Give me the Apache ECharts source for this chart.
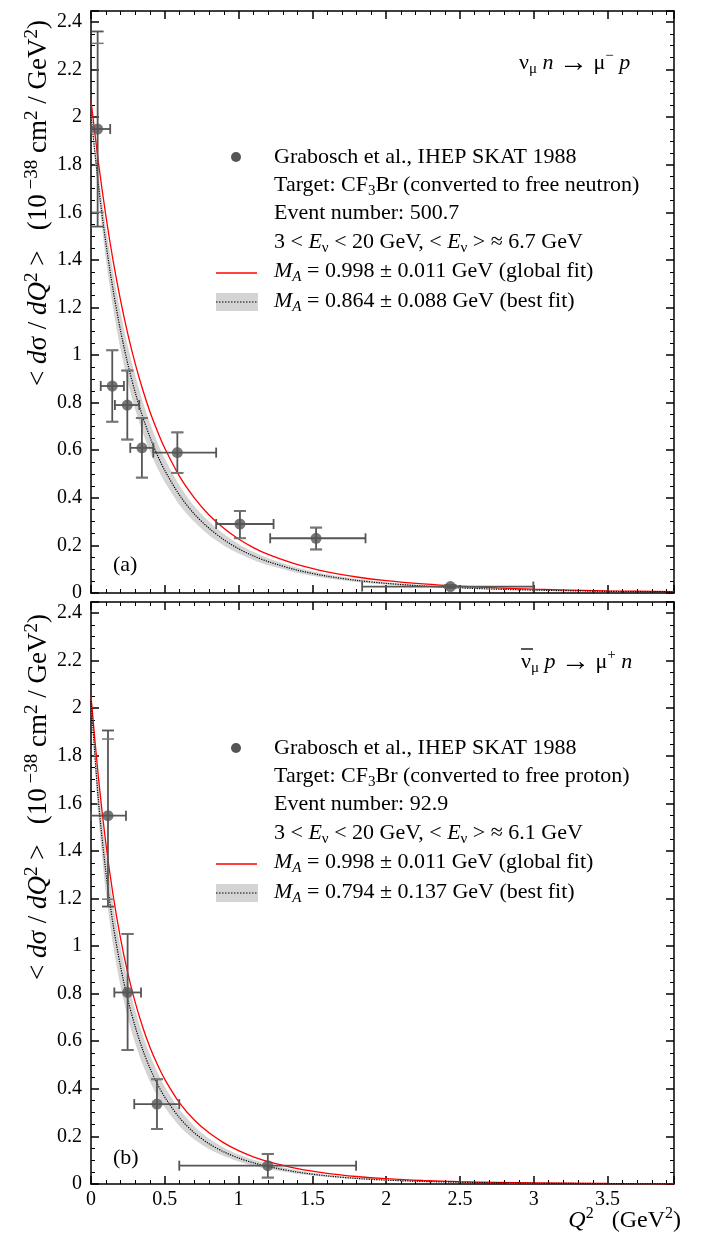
<!DOCTYPE html>
<html>
<head>
<meta charset="utf-8">
<script src="https://cdn.jsdelivr.net/npm/echarts@6/dist/echarts.min.js"></script>
<style>
html,body{margin:0;padding:0;background:#fff;}
#chart{width:702px;height:1235px;}
</style>
</head>
<body>
<div id="chart"></div>
<script>
// ---------- data ----------
// common Q^2 grid for the curves (GeV^2)
const qGrid = [0,0.05,0.1,0.15,0.2,0.25,0.3,0.35,0.4,0.45,0.5,0.6,0.7,0.8,0.9,1.0,1.1,1.2,1.4,1.6,1.8,2.0,2.25,2.5,2.75,3.0,3.5,3.95];

// panel (a): nu_mu n -> mu- p
const redA    = [2.07,1.811,1.588,1.396,1.231,1.087,0.963,0.855,0.761,0.680,0.608,0.490,0.400,0.328,0.272,0.227,0.191,0.162,0.119,0.0887,0.0673,0.0519,0.0382,0.0283,0.0212,0.0160,0.0093,0.0058];
const bestA   = [2.01,1.717,1.474,1.272,1.103,0.961,0.842,0.741,0.654,0.579,0.515,0.411,0.332,0.272,0.224,0.186,0.156,0.132,0.0955,0.0705,0.0530,0.0405,0.0294,0.0216,0.0161,0.0121,0.0069,0.0042];
const bandLoA = [2.000,1.674,1.408,1.196,1.026,0.886,0.770,0.676,0.595,0.525,0.466,0.370,0.299,0.243,0.200,0.166,0.139,0.1175,0.0845,0.0624,0.0466,0.0356,0.0259,0.0190,0.0142,0.0106,0.0061,0.0037];
const bandHiA = [2.020,1.760,1.540,1.348,1.180,1.036,0.914,0.806,0.713,0.633,0.564,0.452,0.365,0.301,0.248,0.206,0.173,0.1465,0.1065,0.0786,0.0594,0.0454,0.0329,0.0242,0.0180,0.0136,0.0077,0.0047];

const q2A    = [0.045,0.144,0.246,0.345,0.585,1.009,1.525,2.435];
const q2LoA  = [0.0,0.066,0.162,0.266,0.422,0.848,1.214,1.837];
const q2HiA  = [0.13,0.223,0.327,0.422,0.848,1.237,1.86,2.997];
const xsA    = [1.95,0.87,0.79,0.61,0.59,0.29,0.23,0.027];
const xsLoA  = [1.54,0.72,0.645,0.485,0.505,0.23,0.183,0.021];
const xsHiA  = [2.36,1.02,0.935,0.735,0.675,0.345,0.275,0.033];
const xsLo2A = [1.60,0.72,0.645,0.485,0.505,0.23,0.183,0.021];
const xsHi2A = [2.31,1.02,0.935,0.735,0.675,0.345,0.275,0.033];

// panel (b): anti-nu_mu p -> mu+ n
const redB    = [2.05,1.710,1.435,1.213,1.032,0.884,0.762,0.660,0.574,0.502,0.440,0.341,0.269,0.215,0.173,0.140,0.114,0.0942,0.0648,0.0450,0.0315,0.0223,0.0147,0.0098,0.0066,0.0045,0.0021,0.0011];
const bestB   = [2.03,1.613,1.314,1.089,0.914,0.774,0.660,0.565,0.486,0.420,0.365,0.278,0.215,0.169,0.135,0.109,0.0893,0.0733,0.0497,0.0340,0.0234,0.0162,0.0107,0.0072,0.0048,0.0033,0.0015,0.0008];
const bandLoB = [2.020,1.548,1.229,1.002,0.832,0.697,0.591,0.503,0.430,0.370,0.321,0.243,0.187,0.147,0.1174,0.0943,0.0772,0.0630,0.0427,0.0292,0.0200,0.0138,0.0091,0.0061,0.0041,0.0028,0.0013,0.0007];
const bandHiB = [2.040,1.678,1.399,1.176,0.996,0.851,0.729,0.627,0.542,0.470,0.409,0.313,0.243,0.191,0.1526,0.1237,0.1014,0.0836,0.0567,0.0388,0.0268,0.0186,0.0123,0.0083,0.0055,0.0038,0.0017,0.0009];

const q2B    = [0.115,0.248,0.447,1.198];
const q2LoB  = [0.0,0.158,0.293,0.598];
const q2HiB  = [0.237,0.339,0.598,1.796];
const xsB    = [1.548,0.805,0.336,0.077];
const xsLoB  = [1.166,0.563,0.231,0.027];
const xsHiB  = [1.906,1.051,0.44,0.126];
const xsLo2B = [1.197,0.563,0.231,0.027];
const xsHi2B = [1.87,1.051,0.44,0.126];

// axes
const xMin = 0, xMax = 3.95, xStep = 0.5;
const yMin = 0, yMax = 2.446, yStep = 0.2;

// ---------- chart ----------
const FONT = '"Liberation Serif","Times New Roman",serif';
const chart = echarts.init(document.getElementById('chart'), null, {renderer:'canvas'});

function zipLine(xs, ys){ return xs.map((x,i)=>[x, ys[i]]); }
function errData(q, ql, qh, y, yl, yh, yl2, yh2){
  return q.map((x,i)=>[x, y[i], ql[i], qh[i], yl[i], yh[i], yl2[i], yh2[i]]);
}

function xAxisOf(gi, pos, labels){
  return {
    type:'value', gridIndex:gi, position:pos, min:xMin, max:xMax, interval:xStep,
    axisLine:{show:true, onZero:false, lineStyle:{color:'#000', width:1.5}},
    axisTick:{show:true, inside:true, length:8, lineStyle:{color:'#000', width:1.5}},
    minorTick:{show:true, splitNumber:5, length:4, lineStyle:{color:'#000', width:1}},
    splitLine:{show:false}, minorSplitLine:{show:false},
    axisLabel:{show:labels, showMaxLabel:false, margin:6, fontFamily:FONT, fontSize:20, color:'#000'}
  };
}
function yAxisOf(gi, pos, labels){
  return {
    type:'value', gridIndex:gi, position:pos, min:yMin, max:yMax, interval:yStep,
    axisLine:{show:true, onZero:false, lineStyle:{color:'#000', width:1.5}},
    axisTick:{show:true, inside:true, length:8, lineStyle:{color:'#000', width:1.5}},
    minorTick:{show:true, splitNumber:4, length:4, lineStyle:{color:'#000', width:1}},
    splitLine:{show:false}, minorSplitLine:{show:false},
    axisLabel:{show:labels, showMaxLabel:false, margin:9, fontFamily:FONT, fontSize:20, color:'#000',
      formatter: v => String(Math.round(v*10)/10)}
  };
}

function bandSeries(xi, yi, lo, hi){
  return {
    type:'custom', xAxisIndex:xi, yAxisIndex:yi, z:1, silent:true, clip:true,
    data:[[0,0]],
    renderItem:function(params, api){
      const pts = [];
      for(let i=0;i<qGrid.length;i++) pts.push(api.coord([qGrid[i], hi[i]]));
      for(let i=qGrid.length-1;i>=0;i--) pts.push(api.coord([qGrid[i], lo[i]]));
      return {type:'polygon', shape:{points:pts, smooth:0.25}, style:{fill:'#d4d4d4', stroke:'none'}};
    }
  };
}
function lineSeries(xi, yi, ys, color, type, width, z){
  return {
    type:'line', xAxisIndex:xi, yAxisIndex:yi, z:z, silent:true,
    data: zipLine(qGrid, ys), showSymbol:false, symbol:'none',
    smooth:0.3,
    lineStyle:{color:color, width:width, type:type}
  };
}
function errSeries(xi, yi, data){
  return {
    type:'custom', xAxisIndex:xi, yAxisIndex:yi, z:5, silent:true,
    data:data, encode:{x:0, y:1},
    renderItem:function(params, api){
      const x = api.value(0), y = api.value(1);
      const pL = api.coord([api.value(2), y]);
      const pR = api.coord([api.value(3), y]);
      const pB = api.coord([x, api.value(4)]);
      const pT = api.coord([x, api.value(5)]);
      const pB2 = api.coord([x, api.value(6)]);
      const pT2 = api.coord([x, api.value(7)]);
      const st = {stroke:'#555', lineWidth:1.8};
      const st2 = {stroke:'#777', lineWidth:1.5};
      const cw = 6, ch = 5;
      const L = (x1,y1,x2,y2,s)=>({type:'line', shape:{x1,y1,x2,y2}, style:s});
      return {type:'group', children:[
        L(pL[0],pL[1],pR[0],pR[1],st),
        L(pL[0],pL[1]-ch,pL[0],pL[1]+ch,st),
        L(pR[0],pR[1]-ch,pR[0],pR[1]+ch,st),
        L(pB[0],pB[1],pT[0],pT[1],st),
        L(pB[0]-cw,pB[1],pB[0]+cw,pB[1],st),
        L(pT[0]-cw,pT[1],pT[0]+cw,pT[1],st),
        L(pB2[0]-cw,pB2[1],pB2[0]+cw,pB2[1],st2),
        L(pT2[0]-cw,pT2[1],pT2[0]+cw,pT2[1],st2)
      ]};
    }
  };
}
function pointSeries(xi, yi, q, y){
  return {
    type:'scatter', xAxisIndex:xi, yAxisIndex:yi, z:6, silent:true,
    data: zipLine(q, y), symbol:'circle', symbolSize:11,
    itemStyle:{color:'#555'}
  };
}

function makeRich(fs, supRatio){
  const sfs = Math.round(fs*(supRatio||0.68));
  return {
    i:{fontFamily:FONT, fontSize:fs, fontStyle:'italic', lineHeight:fs+6},
    r:{fontFamily:FONT, fontSize:fs, lineHeight:fs+6},
    arr:{fontFamily:FONT, fontSize:Math.round(fs*1.3), lineHeight:fs+6},
    sub:{fontFamily:FONT, fontSize:sfs, lineHeight:sfs, verticalAlign:'bottom'},
    subi:{fontFamily:FONT, fontSize:sfs, fontStyle:'italic', lineHeight:sfs, verticalAlign:'bottom'},
    sup:{fontFamily:FONT, fontSize:sfs, lineHeight:sfs, verticalAlign:'top'}
  };
}
function txt(x, y, text, opts){
  opts = opts || {};
  const fs = opts.fontSize || 22;
  return {
    type:'text', x:x, y:y, rotation:opts.rotation||0, z:100, silent:true,
    style:{
      text:text, rich:makeRich(fs, opts.supRatio),
      fontFamily:FONT, fontSize:fs, fill:'#000',
      align:opts.align||'left', verticalAlign:'middle'
    }
  };
}

function legendGraphics(dy, target, events, eavg, best){
  const tx = 274;
  return [
    {type:'circle', shape:{cx:236, cy:157+dy, r:5}, style:{fill:'#555'}, z:100, silent:true},
    txt(tx, 157+dy, '{r|Grabosch et al., IHEP SKAT 1988}'),
    txt(tx, 185+dy, '{r|Target: CF}{sub|3}{r|Br (converted to free ' + target + ')}'),
    txt(tx, 213+dy, '{r|Event number: ' + events + '}'),
    txt(tx, 242+dy, '{r|3 < }{i|E}{sub|ν}{r| < 20 GeV, < }{i|E}{sub|ν}{r| > ≈ ' + eavg + ' GeV}'),
    {type:'line', shape:{x1:216, y1:273+dy, x2:257, y2:273+dy}, style:{stroke:'#ff0000', lineWidth:1.3}, z:100, silent:true},
    txt(tx, 271+dy, '{i|M}{subi|A}{r| = 0.998 ± 0.011 GeV (global fit)}'),
    {type:'rect', shape:{x:216, y:293+dy, width:42, height:18}, style:{fill:'#d4d4d4'}, z:100, silent:true},
    {type:'line', shape:{x1:216, y1:302+dy, x2:258, y2:302+dy}, style:{stroke:'#000', lineWidth:1.2, lineDash:[1.5,1.5]}, z:101, silent:true},
    txt(tx, 301+dy, '{i|M}{subi|A}{r| = ' + best + ' GeV (best fit)}')
  ];
}

const yTitle = '{r|< }{i|d}{r|σ / }{i|dQ}{sup|2}{r| >   (10}{sup| −38}{r| cm}{sup|2}{r| / GeV}{sup|2}{r|)}';

const graphics = [].concat(
  [
    txt(39, 203, yTitle, {rotation:Math.PI/2, align:'center', fontSize:27, supRatio:0.7}),
    txt(39, 797, yTitle, {rotation:Math.PI/2, align:'center', fontSize:27, supRatio:0.7}),
    txt(519, 63, '{r|ν}{sub|μ}{i| n }{arr|→}{r| μ}{sup|−}{i| p}'),
    txt(521, 662, '{r|ν}{sub|μ}{i| p }{arr|→}{r| μ}{sup|+}{i| n}'),
    {type:'line', shape:{x1:521, y1:649, x2:533, y2:649}, style:{stroke:'#000', lineWidth:1.3}, z:100, silent:true},
    txt(113, 565, '{r|(a)}'),
    txt(113, 1158, '{r|(b)}'),
    txt(681, 1221, '{i|Q}{sup|2}{r|   (GeV}{sup|2}{r|)}', {align:'right', fontSize:24})
  ],
  legendGraphics(0, 'neutron', '500.7', '6.7', '0.864 ± 0.088'),
  legendGraphics(591, 'proton', '92.9', '6.1', '0.794 ± 0.137')
);

const option = {
  backgroundColor:'#fff',
  animation:false,
  grid:[
    {left:91, top:11, width:583, height:582},
    {left:91, top:602, width:583, height:582}
  ],
  xAxis:[
    xAxisOf(0,'bottom',false), xAxisOf(0,'top',false),
    xAxisOf(1,'bottom',true),  xAxisOf(1,'top',false)
  ],
  yAxis:[
    yAxisOf(0,'left',true), yAxisOf(0,'right',false),
    yAxisOf(1,'left',true), yAxisOf(1,'right',false)
  ],
  series:[
    bandSeries(0,0,bandLoA,bandHiA),
    lineSeries(0,0,redA,'#ff0000','solid',1.3,3),
    lineSeries(0,0,bestA,'#000','dotted',1.2,4),
    errSeries(0,0,errData(q2A,q2LoA,q2HiA,xsA,xsLoA,xsHiA,xsLo2A,xsHi2A)),
    pointSeries(0,0,q2A,xsA),
    bandSeries(2,2,bandLoB,bandHiB),
    lineSeries(2,2,redB,'#ff0000','solid',1.3,3),
    lineSeries(2,2,bestB,'#000','dotted',1.2,4),
    errSeries(2,2,errData(q2B,q2LoB,q2HiB,xsB,xsLoB,xsHiB,xsLo2B,xsHi2B)),
    pointSeries(2,2,q2B,xsB)
  ],
  graphic:graphics
};
chart.setOption(option);
</script>
</body>
</html>
